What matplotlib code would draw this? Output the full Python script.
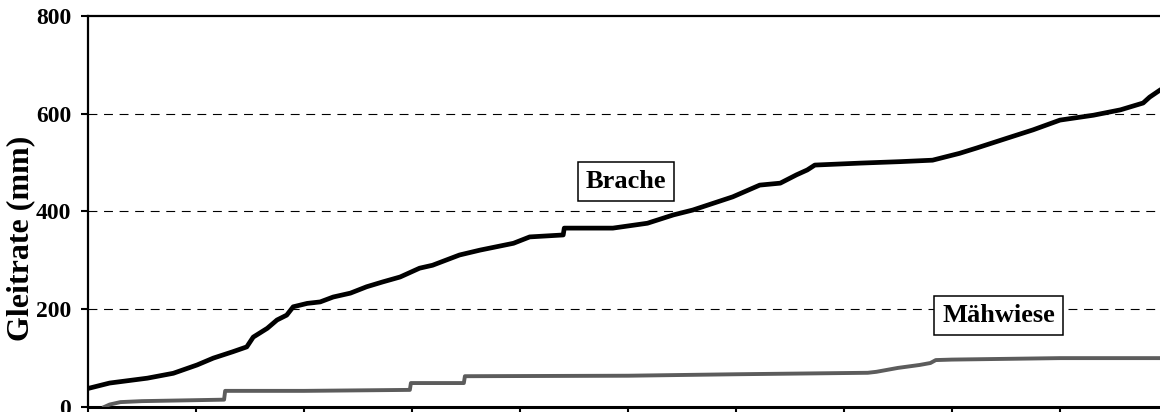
import matplotlib
matplotlib.use("Agg")
import matplotlib.pyplot as plt

# Brache (fallow) cumulative glide
brache_x = [0.02, 0.20, 0.55, 0.79, 1.01, 1.16, 1.34, 1.47, 1.53, 1.66, 1.75, 1.84,
            1.90, 2.03, 2.15, 2.27, 2.43, 2.58, 2.73, 2.89, 3.07, 3.19, 3.44, 3.63,
            3.94, 4.09, 4.40, 4.41, 4.86, 5.18, 5.42, 5.60, 5.97, 6.22, 6.41, 6.56,
            6.66, 6.73, 7.15, 7.52, 7.82, 8.07, 8.23, 8.51, 8.75, 9.00, 9.31, 9.56,
            9.77, 9.83, 9.93, 10.0]
brache_y = [39, 49, 59, 69, 86, 100, 113, 123, 143, 161, 178, 188,
            205, 212, 215, 225, 233, 246, 256, 266, 284, 290, 311, 321,
            335, 348, 352, 366, 366, 376, 393, 403, 430, 454, 458, 475,
            485, 495, 499, 502, 505, 519, 530, 550, 567, 587, 597, 608,
            622, 634, 649, 655]

# Mähwiese (mown meadow)
mahwiese_x = [0.15, 0.20, 0.30, 0.50, 1.26, 1.27, 2.00, 2.98, 2.99, 3.48, 3.49,
              5.00, 6.00, 7.22, 7.30, 7.50, 7.70, 7.80, 7.85, 8.00, 9.00, 10.0]
mahwiese_y = [0, 5, 10, 12, 15, 33, 33, 35, 49, 49, 63,
              64, 67, 70, 72, 80, 86, 90, 96, 97, 100, 100]

y_ticks = [0, 200, 400, 600, 800]
x_ticks = list(range(11))

serif = "Liberation Serif"

fig = plt.figure(figsize=(11.6, 4.12), dpi=100)
ax = fig.add_axes([0.07586, 0.01214, 0.93103, 0.94903])

ax.set_xlim(0, 10)
ax.set_ylim(0, 800)

# dashed reference lines
for yv in y_ticks[1:-1]:
    ax.axhline(yv, color="black", lw=0.8, linestyle=(0, (8, 6)), zorder=1)

ax.plot(mahwiese_x, mahwiese_y, color="#5c5c5c", lw=2.8, zorder=3)
ax.plot(brache_x, brache_y, color="black", lw=3.4, zorder=4)

box = dict(boxstyle="square,pad=0.3", facecolor="white", edgecolor="black", linewidth=1.1)
ax.text(4.98, 461, "Brache", ha="center", va="center", fontsize=19,
        family=serif, fontweight="bold", bbox=box, zorder=5)
ax.text(8.43, 188, "Mähwiese", ha="center", va="center", fontsize=19,
        family=serif, fontweight="bold", bbox=box, zorder=5)

ax.set_yticks(y_ticks)
ax.set_yticklabels([str(v) for v in y_ticks], family=serif, fontweight="bold", fontsize=17)
ax.set_xticks(x_ticks)
ax.set_xticklabels([])
ax.tick_params(axis="y", direction="out", length=5, width=1.5, pad=7)
ax.tick_params(axis="x", direction="out", length=8, width=1.5)

ax.set_ylabel("Gleitrate (mm)", family=serif, fontweight="bold", fontsize=23)
ax.yaxis.set_label_coords(-0.049, 0.43)

for side in ["top", "left", "right"]:
    ax.spines[side].set_linewidth(1.6)
ax.spines["bottom"].set_linewidth(2.2)

fig.savefig("out.png", dpi=100)
